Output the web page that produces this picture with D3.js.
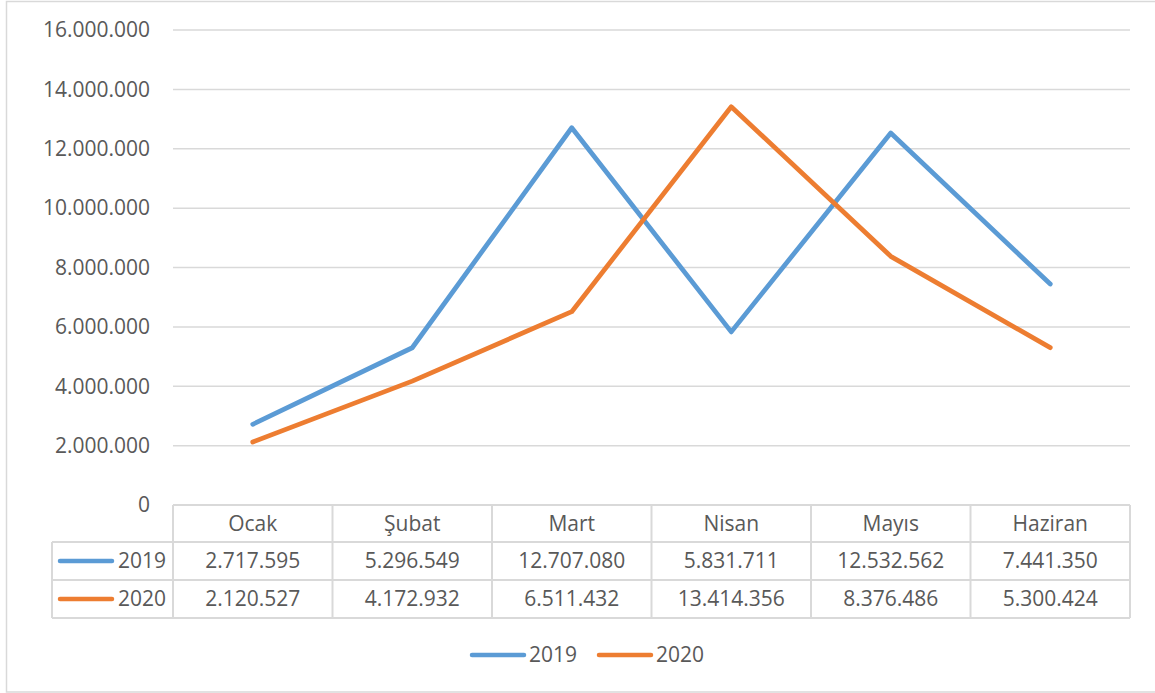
<!DOCTYPE html>
<html>
<head>
<meta charset="utf-8">
<script src="https://cdn.jsdelivr.net/npm/d3@7"></script>
<style>
  html, body { margin: 0; padding: 0; background: #fff; }
  svg { display: block; font-family: "Open Sans", sans-serif; }
</style>
</head>
<body>
<svg id="chart" width="1155" height="693"></svg>
<script>
  /* ---- Data ---- */
  const months = ['Ocak', 'Şubat', 'Mart', 'Nisan', 'Mayıs', 'Haziran'];
  const values2019 = [2717595, 5296549, 12707080, 5831711, 12532562, 7441350];
  const values2020 = [2120527, 4172932, 6511432, 13414356, 8376486, 5300424];
  const yTicks = [0, 2000000, 4000000, 6000000, 8000000, 10000000, 12000000, 14000000, 16000000];

  const series = [
    { name: '2019', values: values2019, color: '#5B9BD5' },
    { name: '2020', values: values2020, color: '#ED7D31' }
  ];

  const TEXT = '#595959';
  const GRID = '#D9D9D9';
  const FS = 21;

  const tr = d3.formatLocale({ decimal: ',', thousands: '.', grouping: [3], currency: ['', ' TL'] });
  const fmt = tr.format(',d');

  const svg = d3.select('#chart');

  // outer chart border
  svg.append('rect')
    .attr('x', 6.5).attr('y', 1.5)
    .attr('width', 1160).attr('height', 690.5)
    .attr('fill', 'none').attr('stroke', GRID).attr('stroke-width', 1.5);

  const plot = { left: 173, right: 1130, top: 30, bottom: 505 };

  const x = d3.scaleBand().domain(months).range([plot.left, plot.right]);
  const y = d3.scaleLinear().domain([0, 16000000]).range([plot.bottom, plot.top]);

  /* ---- Gridlines ---- */
  svg.append('g')
    .selectAll('line')
    .data(yTicks.filter(d => d > 0))
    .join('line')
      .attr('x1', plot.left).attr('x2', plot.right)
      .attr('y1', d => y(d)).attr('y2', d => y(d))
      .attr('stroke', GRID).attr('stroke-width', 1.5);

  /* ---- Y axis labels ---- */
  svg.append('g')
    .selectAll('text')
    .data(yTicks)
    .join('text')
      .attr('x', 150)
      .attr('y', d => y(d))
      .attr('dy', '0.35em')
      .attr('text-anchor', 'end')
      .attr('fill', TEXT)
      .style('font-size', FS + 'px')
      .text(d => fmt(d));

  /* ---- Data table ---- */
  const rowTop = [505, 542, 580];
  const rowBot = 618;
  const tbl = svg.append('g').attr('stroke', GRID).attr('stroke-width', 2).attr('fill', 'none');
  // horizontal lines
  tbl.append('line').attr('x1', plot.left).attr('x2', plot.right).attr('y1', rowTop[0]).attr('y2', rowTop[0]);
  [rowTop[1], rowTop[2], rowBot].forEach(yy => {
    tbl.append('line').attr('x1', 52).attr('x2', plot.right).attr('y1', yy).attr('y2', yy);
  });
  // vertical lines
  tbl.append('line').attr('x1', 52).attr('x2', 52).attr('y1', rowTop[1]).attr('y2', rowBot);
  months.forEach(m => {
    const xx = x(m);
    tbl.append('line').attr('x1', xx).attr('x2', xx).attr('y1', rowTop[0]).attr('y2', rowBot);
  });
  tbl.append('line').attr('x1', plot.right).attr('x2', plot.right).attr('y1', rowTop[0]).attr('y2', rowBot);

  // header
  svg.append('g')
    .selectAll('text')
    .data(months)
    .join('text')
      .attr('x', d => x(d) + x.bandwidth() / 2)
      .attr('y', (rowTop[0] + rowTop[1]) / 2)
      .attr('dy', '0.35em')
      .attr('text-anchor', 'middle')
      .attr('fill', TEXT)
      .style('font-size', FS + 'px')
      .text(d => d);

  // series rows
  series.forEach((s, i) => {
    const top = rowTop[i + 1];
    const bot = i + 2 < rowTop.length ? rowTop[i + 2] : rowBot;
    const cy = (top + bot) / 2;
    const g = svg.append('g');
    g.append('line')
      .attr('x1', 60).attr('x2', 112).attr('y1', cy).attr('y2', cy)
      .attr('stroke', s.color).attr('stroke-width', 4.5).attr('stroke-linecap', 'round');
    g.append('text')
      .attr('x', 166).attr('y', cy).attr('dy', '0.35em')
      .attr('text-anchor', 'end').attr('fill', TEXT)
      .style('font-size', FS + 'px')
      .text(s.name);
    g.selectAll('text.val')
      .data(s.values)
      .join('text')
        .attr('class', 'val')
        .attr('x', (d, j) => x(months[j]) + x.bandwidth() / 2)
        .attr('y', cy).attr('dy', '0.35em')
        .attr('text-anchor', 'middle').attr('fill', TEXT)
        .style('font-size', FS + 'px')
        .text(d => fmt(d));
  });

  /* ---- Lines ---- */
  const line = d3.line()
    .x((d, j) => x(months[j]) + x.bandwidth() / 2)
    .y(d => y(d));

  svg.append('g')
    .selectAll('path')
    .data(series)
    .join('path')
      .attr('d', d => line(d.values))
      .attr('fill', 'none')
      .attr('stroke', d => d.color)
      .attr('stroke-width', 4.75)
      .attr('stroke-linejoin', 'round')
      .attr('stroke-linecap', 'round');

  /* ---- Legend ---- */
  const legend = svg.append('g').attr('transform', 'translate(470, 655)');
  series.forEach((s, i) => {
    const lg = legend.append('g').attr('transform', `translate(${i * 127}, 0)`);
    lg.append('line')
      .attr('x1', 2).attr('x2', 54).attr('y1', 0).attr('y2', 0)
      .attr('stroke', s.color).attr('stroke-width', 4.5).attr('stroke-linecap', 'round');
    lg.append('text')
      .attr('x', 59).attr('y', 0).attr('dy', '0.35em')
      .attr('fill', TEXT)
      .style('font-size', FS + 'px')
      .text(s.name);
  });
</script>
</body>
</html>
